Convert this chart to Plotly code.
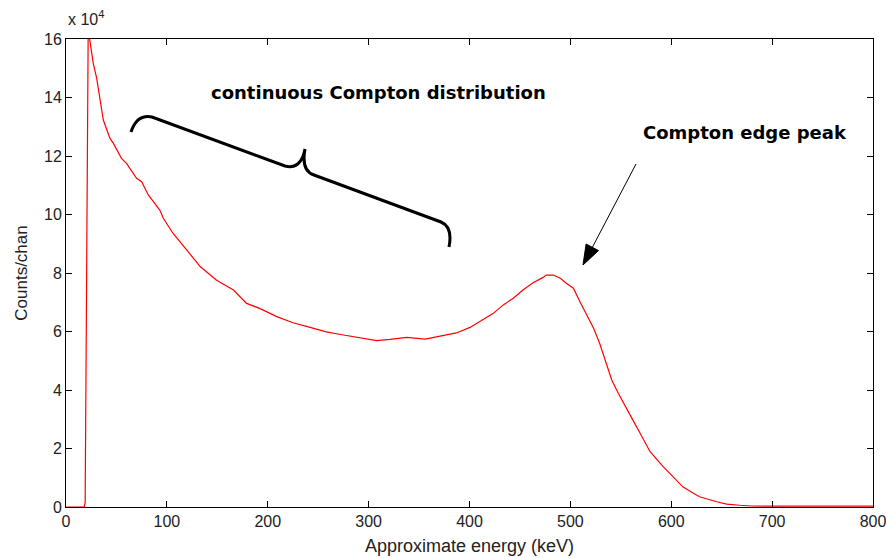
import plotly.graph_objects as go

# ---- data ----
energy_kev = [0, 18, 19, 20, 21, 22, 23, 25.5, 27, 30.4, 35.4, 37, 43.6, 47, 55, 60, 70, 75,
              81.6, 90, 93, 96.5, 106, 119.6, 133, 149, 166, 179, 192, 209, 225, 242, 258,
              275, 291, 308, 321, 338, 356, 371, 387, 400.5, 410, 423.6, 433.5, 443.4, 453,
              463, 473, 476, 483, 490, 496, 503, 509.5, 516, 523, 529, 534, 541, 547.5, 556,
              562, 569, 579, 592, 602, 611.5, 622, 628, 645, 655, 668, 680, 700, 750, 800]
counts = [0, 0, 1500, 62000, 140000, 163000, 161000, 155000, 151700, 146600, 134400, 132300,
          126000, 124300, 119200, 117500, 112400, 111200, 106700, 102700, 101500, 98700,
          93600, 87900, 82200, 77600, 74200, 69600, 67900, 65100, 63000, 61400, 59900,
          58800, 57900, 56900, 57300, 58000, 57400, 58500, 59500, 61400, 63400, 66200,
          69100, 71400, 74200, 76700, 78500, 79300, 79300, 78200, 76500, 74800, 70200,
          65600, 61100, 56000, 50800, 43400, 38900, 33200, 29700, 25300, 18900, 13800,
          10400, 6900, 4700, 3500, 1800, 1000, 600, 350, 300, 300, 300]

x_ticks = [0, 100, 200, 300, 400, 500, 600, 700, 800]
y_tickvals = [0, 20000, 40000, 60000, 80000, 100000, 120000, 140000, 160000]
y_ticktext = ["0", "2", "4", "6", "8", "10", "12", "14", "16"]

W, H = 886, 558
L, R, T, B = 66, 13, 39, 51
PW, PH = W - L - R, H - T - B


def px(x, y):
    """pixel position -> paper coords (for decorations only)"""
    return (x - L) / PW, (H - B - y) / PH


def path(cmds):
    out = []
    for c in cmds:
        op, pts = c[0], c[1:]
        s = op
        for (x, y) in pts:
            a, b = px(x, y)
            s += f" {a:.5f},{b:.5f}"
        out.append(s)
    return " ".join(out)


fig = go.Figure()
fig.add_trace(go.Scatter(x=energy_kev, y=counts, mode="lines",
                         line=dict(color="#ff0000", width=1.2), showlegend=False))

axis_common = dict(showline=True, linecolor="black", linewidth=1, mirror="ticks",
                   ticks="inside", ticklen=6, tickcolor="black", tickwidth=1,
                   showgrid=False, zeroline=False, ticklabeloverflow="allow",
                   automargin=False,
                   tickfont=dict(family="Liberation Sans, Arial", size=16, color="#222"))

fig.update_xaxes(range=[0, 800], tickvals=x_ticks,
                 title=dict(text="Approximate energy (keV)", standoff=10,
                            font=dict(family="Liberation Sans, Arial", size=18, color="#222")),
                 **axis_common)
fig.update_yaxes(range=[0, 160000], tickvals=y_tickvals, ticktext=y_ticktext,
                 title=dict(text="Counts/chan", standoff=12,
                            font=dict(family="Liberation Sans, Arial", size=17, color="#222")),
                 **axis_common)

brace = path([("M", (131, 132)), ("Q", (137, 114), (152, 117)), ("L", (285, 166)),
              ("Q", (301, 170), (305, 149)),
              ("M", (305, 149)), ("Q", (301, 171), (314, 175)), ("L", (441, 222)),
              ("Q", (453, 227), (449, 247))])

tail = px(636, 164)
tip = (583, 265)
head = path([("M", tip), ("L", (598.5, 250.6)), ("L", (586.1, 244))]) + " Z"
shaft_end = px(592, 248)

shapes = [
    dict(type="path", xref="paper", yref="paper", path=brace,
         line=dict(color="black", width=3)),
    dict(type="line", xref="paper", yref="paper", x0=tail[0], y0=tail[1],
         x1=shaft_end[0], y1=shaft_end[1], line=dict(color="black", width=1)),
    dict(type="path", xref="paper", yref="paper", path=head,
         fillcolor="black", line=dict(color="black", width=1)),
]

bold = dict(family="DejaVu Sans, Liberation Sans", size=18, color="black")
a1 = px(378, 92)
a2 = px(745, 133)
ax10 = px(66, 30)
annotations = [
    dict(text="<b>continuous Compton distribution</b>", xref="paper", yref="paper",
         x=a1[0], y=a1[1], showarrow=False, font=bold, xanchor="center", yanchor="middle"),
    dict(text="<b>Compton edge peak</b>", xref="paper", yref="paper",
         x=a2[0], y=a2[1], showarrow=False, font=bold, xanchor="center", yanchor="middle"),
    dict(text="x 10<sup>4</sup>", xref="paper", yref="paper", x=ax10[0], y=ax10[1],
         showarrow=False, xanchor="left", yanchor="bottom",
         font=dict(family="Liberation Sans, Arial", size=16, color="#222")),
]

fig.update_layout(width=W, height=H, margin=dict(l=L, r=R, t=T, b=B),
                  paper_bgcolor="white", plot_bgcolor="white",
                  shapes=shapes, annotations=annotations)

fig.write_html("out.html")
